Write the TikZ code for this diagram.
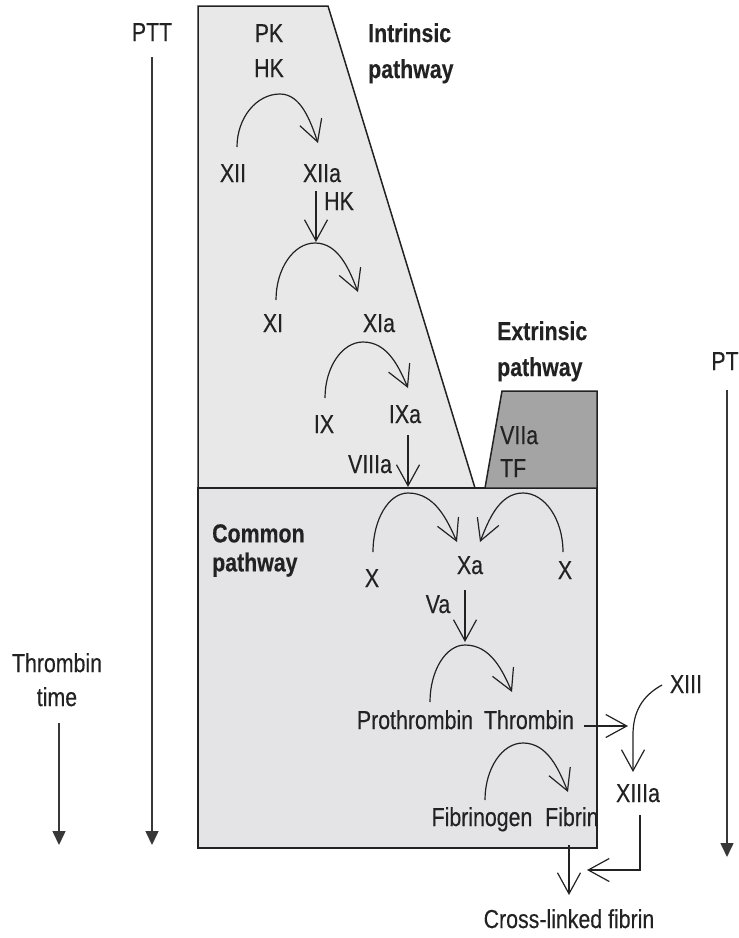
\documentclass[tikz,border=0pt]{standalone}
\usepackage{fontspec}
\setmainfont{Liberation Sans}[FakeStretch=0.82,FakeBold=0.3]
\usetikzlibrary{arrows.meta}
\definecolor{ink}{HTML}{222222}
\definecolor{intrfill}{HTML}{E8E8E8}
\definecolor{commfill}{HTML}{E4E3E6}
\definecolor{extrfill}{HTML}{A4A4A4}
\newcommand\cascarc[6]{\draw[flow] (#1,#2) .. controls (#1,{#2-0.55*(#2-#4)}) and ({#3-0.55*(#3-#1)},#4) .. (#3,#4) .. controls ({#3+0.55*(#5-#3)},#4) and ({#5-0.2*(#5-#3)},{#6-0.45*(#6-#4)}) .. (#5,#6);}
\begin{document}
\begin{tikzpicture}[x=1pt,y=-1pt,
  lbl/.style={inner sep=0pt, text=ink, anchor=base, font=\fontsize{26}{35}\selectfont},
  ttl/.style={inner sep=0pt, text=ink, anchor=north west, align=left, font=\bfseries\fontsize{26}{#1}\selectfont},
  region/.style={draw=ink, line width=1.5pt, line join=miter},
  flow/.style={draw=ink, line width=1.2pt, -{Straight Barb[length=21pt,width=23pt,line width=1.2pt]}},
  timeaxis/.style={draw=ink!90, line width=1.5pt, -{Triangle[length=14pt,width=13pt]}}]
\useasboundingbox (0,0) rectangle (739,938);

% regions
\path[region, fill=intrfill] (198,488) -- (198,6) -- (328,6) -- (475,488) -- cycle;
\path[region, fill=commfill] (198,488) rectangle (597,848);
\path[region, fill=extrfill] (485,488) -- (502,391) -- (597,391) -- (597,488) -- cycle;

% test axes
\node[lbl] (PTT) at (152,41) {PTT};
\node[lbl, anchor=north, align=center, font=\fontsize{26}{34}\selectfont] (TT) at (57,653) {Thrombin\\time};
\node[lbl] (PT) at (725,370) {PT};
\coordinate (PTTend) at (152,845);
\coordinate (TTend) at (59,845);
\coordinate (PTend) at (727,857);
\draw[timeaxis] (152,57) -- (PTTend);
\draw[timeaxis] (59,723) -- (TTend);
\draw[timeaxis] (727,390) -- (PTend);

% titles
\node[ttl=36] (intr) at (368,23) {Intrinsic\\pathway};
\node[ttl=36] (extr) at (497,321) {Extrinsic\\pathway};
\node[ttl=29] (comm) at (212,524) {Common\\pathway};

% intrinsic cascade
\node[lbl, anchor=north, align=center] (PKHK) at (269,24) {PK\\HK};
\node[lbl] (XII) at (233,182) {XII};
\node[lbl] (XIIa) at (322,182) {XIIa};
\node[lbl] (HK) at (339,210) {HK};
\node[lbl] (XI) at (273,332) {XI};
\node[lbl] (XIa) at (379,332) {XIa};
\node[lbl] (IX) at (324,433) {IX};
\node[lbl] (IXa) at (405,423) {IXa};
\node[lbl] (VIIIa) at (370,473) {VIIIa};

% extrinsic
\node[lbl, anchor=north west, align=left, font=\fontsize{26}{33}\selectfont] (VIIaTF) at (500,426) {VIIa\\TF};

% common
\node[lbl] (Xl) at (372,587) {X};
\node[lbl] (Xa) at (470,574) {Xa};
\node[lbl] (Xr) at (565,579) {X};
\node[lbl] (Va) at (438,613) {Va};
\node[lbl] (Pro) at (415,729) {Prothrombin};
\node[lbl] (Thr) at (529,729) {Thrombin};
\node[lbl] (XIII) at (686,693) {XIII};
\node[lbl] (XIIIa) at (638,802) {XIIIa};
\node[lbl] (Fbg) at (482,826) {Fibrinogen};
\node[lbl, anchor=base west] (Fib) at (545,826) {Fibrin};
\node[lbl] (CLF) at (569,928) {Cross-linked fibrin};
\draw[region] (597,488) -- (597,848);

% arcs
\cascarc{237}{147}{280}{94}{318}{143}
\cascarc{276}{300}{315}{243}{358}{292}
\cascarc{325}{398}{363}{342}{408}{388}
\cascarc{373}{552}{408}{493}{457}{542}
\cascarc{563}{552}{523}{493}{480}{542}
\cascarc{430}{702}{465}{645}{512}{692}
\cascarc{485}{800}{523}{743}{568}{792}

% straight connectors
\draw[flow] (316,191) -- (316,242);
\draw[flow] (408,435) -- (408,487);
\draw[flow] (465,590) -- (465,642);
\draw[flow] (Thr.east |- 0,726) ++(10,0) -- (628,726);
\draw[flow] (662,685) .. controls (642,696) and (633,712) .. (633,735) -- (633,772);
\draw[flow] (569,845) -- (569,895);
\draw[flow] (640,815) -- (640,870) -- (587,870);
\end{tikzpicture}
\end{document}
